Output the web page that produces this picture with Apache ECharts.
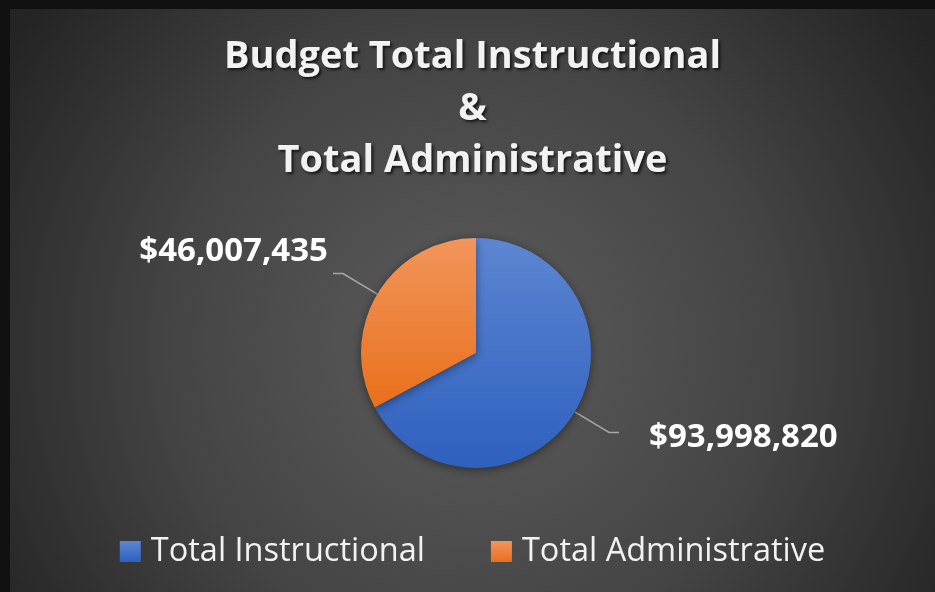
<!DOCTYPE html>
<html>
<head>
<meta charset="utf-8">
<script src="https://cdn.jsdelivr.net/npm/echarts@6/dist/echarts.min.js"></script>
<style>
html,body{margin:0;padding:0;background:#111112;width:935px;height:592px;overflow:hidden;}
#c{position:absolute;left:10px;top:9px;width:925px;height:583px;}
</style>
</head>
<body>
<div id="c"></div>
<script>
const titleLines = ['Budget Total Instructional', '&', 'Total Administrative'];
const categories = ['Total Instructional', 'Total Administrative'];
const values = [93998820, 46007435];

const blueGrad = {type:'linear',x:0,y:0,x2:0,y2:1,colorStops:[{offset:0,color:'#5d86d2'},{offset:1,color:'#2e60be'}]};
const orangeGrad = {type:'linear',x:0,y:0,x2:0,y2:1,colorStops:[{offset:0,color:'#f2955c'},{offset:1,color:'#e8701b'}]};
const colors = [blueGrad, orangeGrad];

function fmt(v){ return '$' + v.toLocaleString('en-US'); }

const chart = echarts.init(document.getElementById('c'), null, {renderer:'canvas'});
chart.setOption({
  backgroundColor: {type:'radial', x:0.5, y:0.58, r:0.95, colorStops:[
    {offset:0, color:'#5c5c5c'}, {offset:0.55, color:'#444444'}, {offset:1, color:'#242424'}]},
  title: {
    text: titleLines.join('\n'),
    left: 'center',
    top: 17,
    textStyle: {
      color:'#f2f2f2', fontFamily:'Open Sans', fontWeight:'bold', fontSize:38, lineHeight:52,
      textShadowColor:'rgba(0,0,0,0.7)', textShadowBlur:3, textShadowOffsetX:2, textShadowOffsetY:2
    }
  },
  legend: {
    bottom: 19,
    left: 'center',
    itemWidth: 21, itemHeight: 21, itemGap: 66,
    icon: 'rect',
    textStyle: {color:'#f2f2f2', fontFamily:'Open Sans', fontSize:32.5, padding:[0,0,0,5]},
    data: categories
  },
  series: [{
    type: 'pie',
    center: [466, 344],
    radius: 115,
    startAngle: 90,
    clockwise: true,
    silent: true,
    itemStyle: {shadowBlur: 10, shadowColor:'rgba(0,0,0,0.45)', shadowOffsetY: 2},
    label: {
      show: true, position:'outside',
      formatter: p => p.dataIndex === 1 ? '{v|' + fmt(p.value) + '}\n{gap|}' : '{gap2|}\n{v|' + fmt(p.value) + '}',
      rich: {
        v: {color:'#ffffff', fontFamily:'Open Sans', fontWeight:'bold', fontSize:33, lineHeight:38},
        gap: {height:44, fontSize:10},
        gap2: {height:10, fontSize:10}
      }
    },
    labelLine: {show:true, length: 40, length2: 10, lineStyle:{color:'#a6a6a6', width:1.5}},
    data: categories.map((n,i) => ({
      name: n, value: values[i],
      itemStyle: {color: colors[i]},
      label: {distanceToLabelLine: i === 0 ? 30 : 5}
    }))
  }]
});
</script>
</body>
</html>
